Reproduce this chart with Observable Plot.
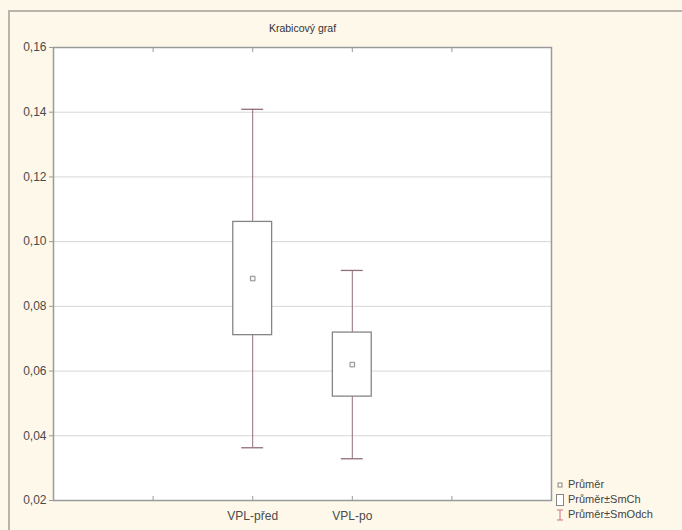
<!DOCTYPE html>
<html><head><meta charset="utf-8">
<script src="https://cdn.jsdelivr.net/npm/d3@7"></script>
<script src="https://cdn.jsdelivr.net/npm/@observablehq/plot@0.6"></script>
<style>
html,body{margin:0;padding:0;background:#fdf8ea;overflow:hidden}
#wrap{position:relative;width:682px;height:530px;background:#fdf8ea;overflow:hidden}
#border{position:absolute;left:8px;top:10px;width:700px;height:560px;border-left:2px solid #b8b4ac;border-top:2px solid #b8b4ac;pointer-events:none}
#legend{position:absolute;left:556px;top:477px;font-family:"Liberation Sans",Arial,sans-serif;font-size:11px;color:#444;white-space:nowrap;line-height:15px}
#legend div{display:flex;align-items:center;gap:4px}
#legend svg{flex:none}
</style></head>
<body><div id="wrap"><div id="border"></div><div id="chart"></div><div id="legend"></div></div>
<script>
const categories = ["VPL-před", "VPL-po"];
const positions = [2, 3];
const means = [0.0886, 0.0620];
const stdErrors = [0.0175, 0.0099];
const stdDevs = [0.0523, 0.0291];
const yTicks = [0.02, 0.04, 0.06, 0.08, 0.10, 0.12, 0.14, 0.16];
const xTicks = [1, 2, 3, 4];
const legendLabels = ["Průměr", "Průměr±SmCh", "Průměr±SmOdch"];
const title = "Krabicový graf";

const data = categories.map((c, i) => ({
  cat: c, x: positions[i], mean: means[i],
  seLo: means[i] - stdErrors[i], seHi: means[i] + stdErrors[i],
  sdLo: means[i] - stdDevs[i], sdHi: means[i] + stdDevs[i]
}));
const boxHalf = 0.195, capHalf = 0.11;
const font = "Liberation Sans, Arial, sans-serif";
const boxColor = "#858585", whiskColor = "#8f6f78", textColor = "#4a4a4a";

const chart = Plot.plot({
  width: 682, height: 530,
  marginLeft: 53, marginRight: 131, marginTop: 47, marginBottom: 30,
  style: {background: "transparent", fontFamily: font, color: textColor},
  x: {domain: [0, 5]},
  y: {domain: [0.02, 0.16]},
  marks: [
    Plot.frame({fill: "white", stroke: "none"}),
    Plot.gridY(yTicks, {stroke: "#d6d6d6", strokeOpacity: 1}),
    Plot.frame({stroke: "#9a9a9a", strokeWidth: 1.5}),
    Plot.axisY(yTicks, {tickSize: 4, tickPadding: 3, fontSize: 12, stroke: "#9a9a9a", tickFormat: d => d.toFixed(2).replace(".", ","), label: null}),
    Plot.axisX(xTicks, {anchor: "bottom", tickSize: -4, stroke: "#9a9a9a", tickFormat: () => "", label: null}),
    Plot.axisX(xTicks, {anchor: "top", tickSize: -4, stroke: "#9a9a9a", tickFormat: () => "", label: null}),
    Plot.text(data, {x: "x", text: "cat", frameAnchor: "bottom", dy: 16, fontSize: 12, fill: textColor, lineAnchor: "middle"}),
    Plot.text([title], {frameAnchor: "top", dy: -19, fontSize: 10.5, fill: "#333", lineAnchor: "middle"}),
    Plot.ruleX(data, {x: "x", y1: "sdLo", y2: "seLo", stroke: whiskColor}),
    Plot.ruleX(data, {x: "x", y1: "seHi", y2: "sdHi", stroke: whiskColor}),
    Plot.ruleY(data, {y: "sdLo", x1: d => d.x - capHalf, x2: d => d.x + capHalf, stroke: whiskColor, strokeWidth: 1.3}),
    Plot.ruleY(data, {y: "sdHi", x1: d => d.x - capHalf, x2: d => d.x + capHalf, stroke: whiskColor, strokeWidth: 1.3}),
    Plot.rect(data, {x1: d => d.x - boxHalf, x2: d => d.x + boxHalf, y1: "seLo", y2: "seHi", fill: "white", stroke: boxColor, strokeWidth: 1.3}),
    Plot.dot(data, {x: "x", y: "mean", symbol: "square", r: 2.6, stroke: "#8a8a8a", fill: "#f4f4f4", strokeWidth: 1})
  ]
});
document.getElementById("chart").appendChild(chart);

const sym = [
  `<svg width="8" height="10"><rect x="2" y="3" width="4" height="4" fill="none" stroke="#8a8a8a"/></svg>`,
  `<svg width="8" height="12"><rect x="0.5" y="0.5" width="7" height="11" fill="white" stroke="#858585"/></svg>`,
  `<svg width="8" height="12"><path d="M1,1H7M4,1V11M1,11H7" fill="none" stroke="#d07080"/></svg>`
];
document.getElementById("legend").innerHTML = legendLabels.map((l, i) => `<div>${sym[i]}<span>${l}</span></div>`).join("");
</script></body></html>
